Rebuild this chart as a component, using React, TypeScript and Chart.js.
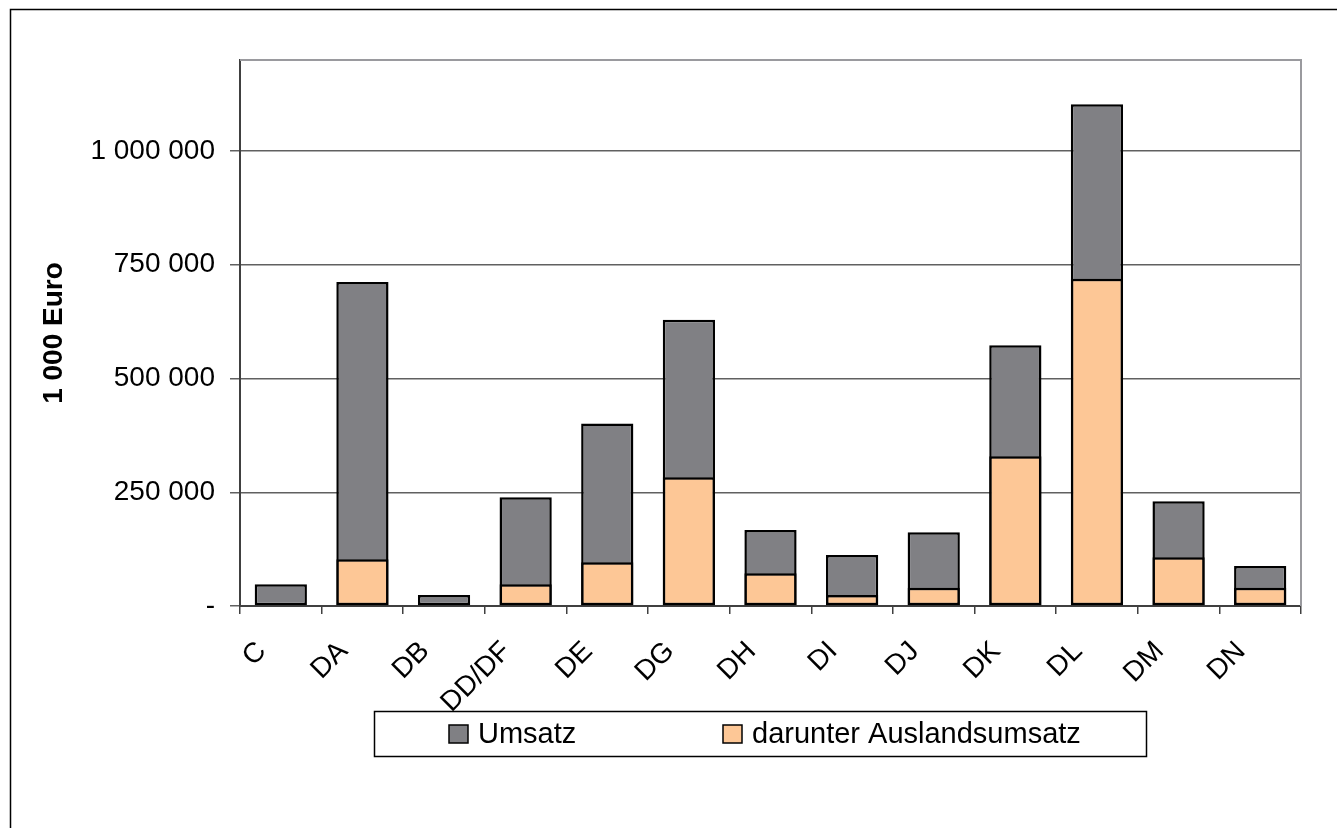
import { useEffect, useRef } from 'react';
import { Chart, registerables } from 'chart.js';

Chart.register(...registerables);

const categories = ['C', 'DA', 'DB', 'DD/DF', 'DE', 'DG', 'DH', 'DI', 'DJ', 'DK', 'DL', 'DM', 'DN'];
const umsatz = [48000, 712000, 24000, 239000, 401000, 629000, 167000, 112000, 162000, 573000, 1103000, 230000, 88000];
const auslandsumsatz = [0, 103000, 6000, 48000, 96000, 283000, 72000, 24000, 40000, 329000, 719000, 107000, 40000];
const yTicks = [0, 250000, 500000, 750000, 1000000];
const seriesLabels = ['Umsatz', 'darunter Auslandsumsatz'];
const yTitle = '1 000 Euro';

const FONT = "'Liberation Sans', Arial, sans-serif";

const fmt = (v: number) => {
  if (v === 0) return '-';
  return String(Math.round(v)).replace(/\B(?=(\d{3})+(?!\d))/g, ' ');
};

const framePlugin = {
  id: 'frame',
  beforeDraw(chart: any) {
    const ctx = chart.ctx;
    ctx.save();
    ctx.fillStyle = '#ffffff';
    ctx.fillRect(0, 0, chart.width, chart.height);
    ctx.strokeStyle = '#000000';
    ctx.lineWidth = 1.5;
    ctx.beginPath();
    ctx.moveTo(10.5, chart.height + 2);
    ctx.lineTo(10.5, 9.5);
    ctx.lineTo(chart.width + 2, 9.5);
    ctx.stroke();
    ctx.restore();
  },
  beforeDatasetsDraw(chart: any) {
    const { ctx, chartArea } = chart;
    ctx.save();
    ctx.strokeStyle = '#9a9a9e';
    ctx.lineWidth = 2;
    ctx.beginPath();
    ctx.moveTo(chartArea.left, chartArea.top);
    ctx.lineTo(chartArea.right, chartArea.top);
    ctx.lineTo(chartArea.right, chartArea.bottom);
    ctx.stroke();
    ctx.restore();
  },
  afterDraw(chart: any) {
    const ctx = chart.ctx;
    const ds = chart.data.datasets;
    ctx.save();
    ctx.strokeStyle = '#000000';
    ctx.lineWidth = 1.5;
    ctx.strokeRect(374.5, 711.5, 772, 45);
    const items = [
      { x: 449, textX: 478 },
      { x: 723, textX: 752 },
    ];
    ctx.font = `29px ${FONT}`;
    ctx.textBaseline = 'middle';
    ctx.textAlign = 'left';
    ds.forEach((d: any, i: number) => {
      const it = items[i];
      if (!it) return;
      ctx.fillStyle = d.backgroundColor;
      ctx.fillRect(it.x, 725, 19, 18);
      ctx.strokeStyle = '#000000';
      ctx.lineWidth = 1.5;
      ctx.strokeRect(it.x, 725, 19, 18);
      ctx.fillStyle = '#000000';
      ctx.fillText(d.label, it.textX, 735);
    });
    ctx.restore();
  },
};

export default function App() {
  const ref = useRef<HTMLCanvasElement | null>(null);
  useEffect(() => {
    if (!ref.current) return;
    const chart = new Chart(ref.current, {
      type: 'bar',
      data: {
        labels: categories,
        datasets: [
          {
            label: seriesLabels[0],
            data: umsatz,
            backgroundColor: '#808084',
            borderColor: '#000000',
            borderWidth: 2.5,
            borderSkipped: false,
            order: 1,
          },
          {
            label: seriesLabels[1],
            data: auslandsumsatz,
            backgroundColor: '#fdc796',
            borderColor: '#000000',
            borderWidth: 2.5,
            borderSkipped: false,
            order: 0,
          },
        ],
      },
      options: {
        responsive: false,
        animation: false,
        devicePixelRatio: 1,
        categoryPercentage: 1,
        barPercentage: 0.64,
        layout: { padding: { left: 37, top: 60, right: 36, bottom: 0 } },
        plugins: {
          legend: { display: false },
          tooltip: { enabled: false },
        },
        scales: {
          x: {
            stacked: true,
            offset: true,
            afterFit: (s: any) => {
              s.height = 222;
            },
            grid: {
              display: true,
              offset: true,
              drawOnChartArea: false,
              drawTicks: true,
              tickLength: 8,
              color: '#404040',
              lineWidth: 1.5,
            },
            border: { display: true, color: '#404040', width: 2 },
            ticks: {
              autoSkip: false,
              minRotation: 45,
              maxRotation: 45,
              labelOffset: -19,
              padding: 21,
              color: '#000000',
              font: { family: FONT, size: 28 },
            },
          },
          y: {
            stacked: false,
            min: 0,
            max: 1200000,
            afterFit: (s: any) => {
              s.width = 203;
            },
            afterBuildTicks: (s: any) => {
              s.ticks = yTicks.map((v) => ({ value: v }));
            },
            grid: {
              color: '#606060',
              lineWidth: 1.5,
              drawTicks: true,
              tickLength: 10,
            },
            border: { display: true, color: '#404040', width: 2 },
            ticks: {
              padding: 15,
              color: '#000000',
              font: { family: FONT, size: 28 },
              callback: (v: any) => fmt(Number(v)),
            },
            title: {
              display: true,
              text: yTitle,
              color: '#000000',
              padding: 0,
              font: { family: FONT, size: 28, weight: 'bold' },
            },
          },
        },
      },
      plugins: [framePlugin],
    });
    return () => chart.destroy();
  }, []);

  return (
    <div style={{ position: 'absolute', left: 0, top: 0, width: 1337, height: 828, overflow: 'hidden' }}>
      <canvas ref={ref} width={1337} height={828} style={{ display: 'block', width: 1337, height: 828 }} />
    </div>
  );
}
